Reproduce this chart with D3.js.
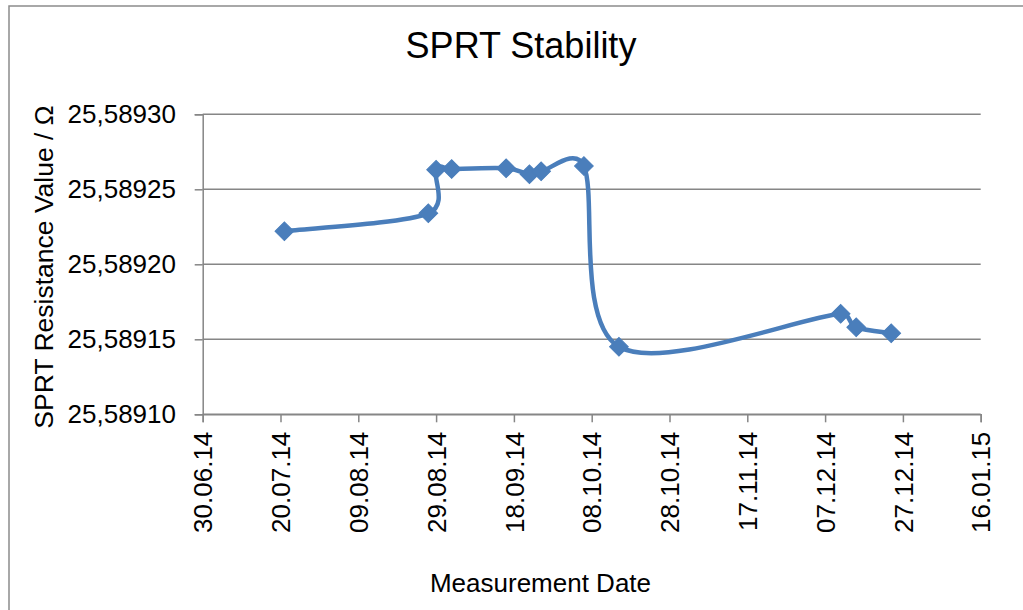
<!DOCTYPE html>
<html>
<head>
<meta charset="utf-8">
<script src="https://cdn.jsdelivr.net/npm/d3@7"></script>
<style>
  body { margin: 0; background: #fff; }
  text { font-family: "Liberation Sans", Arial, sans-serif; fill: #000; }
</style>
</head>
<body>
<div id="figure"></div>
<script>
var dates = ["2014-07-21", "2014-08-27", "2014-08-29", "2014-09-02", "2014-09-16", "2014-09-22",
             "2014-09-25", "2014-10-06", "2014-10-15", "2014-12-11", "2014-12-15", "2014-12-24"];
var values = [25.589222, 25.589234, 25.589263, 25.5892635, 25.589264, 25.589260,
              25.589262, 25.5892655, 25.589145, 25.589167, 25.589158, 25.589154];

var xTicks = ["2014-06-30", "2014-07-20", "2014-08-09", "2014-08-29", "2014-09-18", "2014-10-08",
              "2014-10-28", "2014-11-17", "2014-12-07", "2014-12-27", "2015-01-16"];
var yTicks = [25.5891, 25.58915, 25.5892, 25.58925, 25.5893];

var titleText = "SPRT Stability";
var xTitle = "Measurement Date";
var yTitle = "SPRT Resistance Value / Ω";

var w = 1023, h = 610;
var plotLeft = 202.7, plotRight = 980.7, plotTop = 114.3, plotBottom = 414.3;
var axisColor = "#868686";
var lineColor = "#4a7ebb";

var parse = d3.utcParse("%Y-%m-%d");
var data = dates.map(function(d, i) {
    return { date: parse(d), value: values[i] };
});

var svg = d3.select("#figure")
    .append("svg")
    .attr("width", w)
    .attr("height", h);

// outer chart border
svg.append("rect")
    .attr("x", 9).attr("y", 6)
    .attr("width", w + 20).attr("height", h + 20)
    .attr("fill", "none")
    .attr("stroke", "#8c8c8c")
    .attr("stroke-width", 1.5);

var xScale = d3.scaleUtc()
    .domain([parse(xTicks[0]), parse(xTicks[xTicks.length - 1])])
    .range([plotLeft, plotRight]);

var yScale = d3.scaleLinear()
    .domain([yTicks[0], yTicks[yTicks.length - 1]])
    .range([plotBottom, plotTop]);

// gridlines
svg.append("g")
    .selectAll("line")
    .data(yTicks)
    .enter()
    .append("line")
    .attr("x1", plotLeft)
    .attr("x2", plotRight)
    .attr("y1", function(d) { return yScale(d); })
    .attr("y2", function(d) { return yScale(d); })
    .attr("stroke", axisColor)
    .attr("stroke-width", 1.5);

var yAxis = d3.axisLeft(yScale)
    .tickValues(yTicks)
    .tickSize(8)
    .tickPadding(18.7)
    .tickFormat(function(d) { return d.toFixed(5).replace(".", ","); });

var gy = svg.append("g")
    .attr("transform", "translate(" + plotLeft + ",0)")
    .call(yAxis);
gy.selectAll("path, line").attr("stroke", axisColor).attr("stroke-width", 1.5);
gy.selectAll("text")
    .style("font-size", "26px")
    .attr("font-family", "Liberation Sans, Arial, sans-serif");

var xAxis = d3.axisBottom(xScale)
    .tickValues(xTicks.map(parse))
    .tickSize(8)
    .tickFormat(d3.utcFormat("%d.%m.%y"));

var gx = svg.append("g")
    .attr("transform", "translate(0," + plotBottom + ")")
    .call(xAxis);
gx.selectAll("path, line").attr("stroke", axisColor).attr("stroke-width", 1.5);
gx.selectAll("text")
    .style("font-size", "26px")
    .attr("font-family", "Liberation Sans, Arial, sans-serif")
    .style("text-anchor", "end")
    .attr("x", -17.4)
    .attr("y", 0)
    .attr("dy", "0.35em")
    .attr("transform", "rotate(-90)");

// spreadsheet-style smoothing: catmull-rom bezier, control arms capped at half the segment
function smoothPath(pts) {
    var p = d3.path();
    var dist = function(a, b) { return Math.hypot(b[0] - a[0], b[1] - a[1]); };
    p.moveTo(pts[0][0], pts[0][1]);
    for (var i = 0; i < pts.length - 1; i++) {
        var p0 = pts[Math.max(i - 1, 0)], p1 = pts[i], p2 = pts[i + 1], p3 = pts[Math.min(i + 2, pts.length - 1)];
        var d12 = dist(p1, p2), d02 = dist(p0, p2), d13 = dist(p1, p3);
        var f1 = d02 > 0 ? Math.min(1 / 6, 0.5 * d12 / d02) : 0;
        var f2 = d13 > 0 ? Math.min(1 / 6, 0.5 * d12 / d13) : 0;
        p.bezierCurveTo(
            p1[0] + (p2[0] - p0[0]) * f1, p1[1] + (p2[1] - p0[1]) * f1,
            p2[0] - (p3[0] - p1[0]) * f2, p2[1] - (p3[1] - p1[1]) * f2,
            p2[0], p2[1]);
    }
    return p.toString();
}

var pts = data.map(function(d) { return [xScale(d.date), yScale(d.value)]; });

svg.append("path")
    .attr("fill", "none")
    .attr("stroke", lineColor)
    .attr("stroke-width", 4.5)
    .attr("stroke-linejoin", "round")
    .attr("stroke-linecap", "round")
    .attr("d", smoothPath(pts));

// diamond markers
svg.selectAll("path.marker")
    .data(data)
    .enter()
    .append("path")
    .attr("class", "marker")
    .attr("d", d3.symbol().type(d3.symbolSquare).size(175))
    .attr("transform", function(d) {
        return "translate(" + xScale(d.date) + "," + yScale(d.value) + ") rotate(45)";
    })
    .attr("fill", lineColor)
    .attr("stroke", lineColor)
    .attr("stroke-width", 1);

// titles
svg.append("text")
    .attr("x", 521)
    .attr("y", 58)
    .attr("text-anchor", "middle")
    .style("font-size", "36px")
    .text(titleText);

svg.append("text")
    .attr("x", 540.5)
    .attr("y", 592)
    .attr("text-anchor", "middle")
    .style("font-size", "26px")
    .text(xTitle);

svg.append("text")
    .attr("transform", "translate(53,267) rotate(-90)")
    .attr("text-anchor", "middle")
    .style("font-size", "26.5px")
    .text(yTitle);
</script>
</body>
</html>
